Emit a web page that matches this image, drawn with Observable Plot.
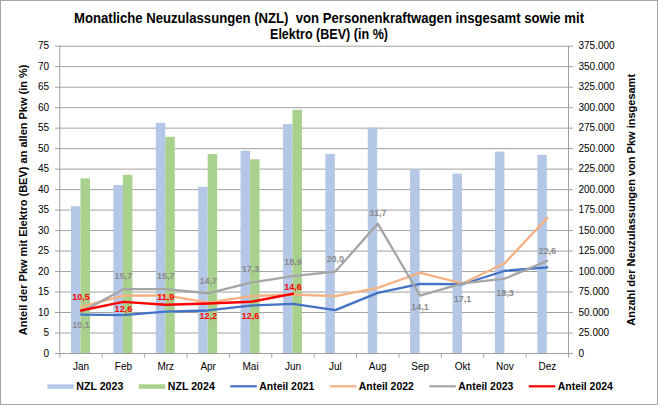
<!DOCTYPE html>
<html><head><meta charset="utf-8">
<script src="https://cdn.jsdelivr.net/npm/d3@7"></script>
<script src="https://cdn.jsdelivr.net/npm/@observablehq/plot@0.6"></script>
<style>
html,body{margin:0;padding:0;background:#fff;}
#wrap{position:relative;width:658px;height:405px;overflow:hidden;font-family:"Liberation Sans",Arial,sans-serif;background:#fff;}
#title{position:absolute;left:0;top:0;}
#chart{position:absolute;left:0;top:40px;}
#legend{position:absolute;left:0;top:380px;}
#border{position:absolute;left:0;top:0;width:658px;height:405px;box-sizing:border-box;border:1px solid #a6a6a6;pointer-events:none;}
</style></head><body>
<div id="wrap">
  <svg id="title" width="658" height="46"></svg>
  <div id="chart"></div>
  <svg id="legend" width="658" height="25"></svg>
  <div id="border"></div>
</div>
<script>
// ---- data ----
const months = ["Jan","Feb","Mrz","Apr","Mai","Jun","Jul","Aug","Sep","Okt","Nov","Dez"];
const nzl2023 = [179200, 205000, 281000, 202900, 246900, 279400, 243000, 274900, 223800, 218900, 245700, 241700];
const nzl2024 = [213100, 217400, 263800, 242700, 236400, 296800];
const anteil2021 = [9.5, 9.35, 10.2, 10.5, 11.7, 12.1, 10.6, 14.8, 17.0, 16.9, 20.2, 21.0];
const anteil2022 = [11.4, 14.1, 14.2, 12.4, 14.0, 14.4, 14.0, 16.0, 19.7, 17.1, 22.1, 33.1];
const anteil2023 = [10.1, 15.7, 15.7, 14.7, 17.3, 18.9, 20.0, 31.7, 14.1, 17.1, 18.3, 22.6];
const anteil2024 = [10.5, 12.6, 11.9, 12.2, 12.6, 14.6];
const leftTicks = [0, 5, 10, 15, 20, 25, 30, 35, 40, 45, 50, 55, 60, 65, 70, 75];
const rightTicks = [0, 25000, 50000, 75000, 100000, 125000, 150000, 175000, 200000, 225000, 250000, 275000, 300000, 325000, 350000, 375000];

const titleLines = ["Monatliche Neuzulassungen (NZL)  von Personenkraftwagen insgesamt sowie mit", "Elektro (BEV) (in %)"];
const leftTitle = "Anteil der Pkw mit Elektro (BEV) an allen Pkw (in %)";
const rightTitle = "Anzahl der Neuzulassungen von Pkw insgesamt";

// ---- helpers ----
const de = d3.formatLocale({decimal: ",", thousands: ".", grouping: [3], currency: ["", " €"]});
const fmtInt = de.format(",");
const fmt1 = de.format(".1f");
const SCALE = rightTicks[rightTicks.length - 1] / leftTicks[leftTicks.length - 1];

const C = {
  nzl23: "#b4c7e7", nzl24: "#a9d18e",
  a21: "#4472c4", a22: "#f4b183", a23: "#a5a5a5", a24: "#ff0000",
  grid: "#a0a0a0", grayLabel: "#8a8a8a"
};

const W = 658, H = 340, mL = 59.3, mR = 90, mT = 5.7, mB = 27;
const bw = (W - mL - mR) / months.length;
const barW = 9.5;

const rows = (arr) => arr.map((v, i) => ({month: months[i], v}));
const rows23 = rows(nzl2023).map(d => ({...d, y: d.v / SCALE}));
const rows24 = rows(nzl2024).map(d => ({...d, y: d.v / SCALE}));

const grayDy = {Jan: 13.4, Feb: -13, Mrz: -13.3, Apr: -12.3, Mai: -13.3, Jun: -14, Jul: -12.7, Aug: -11, Sep: 11.5, Okt: 15.5, Nov: 14.7, Dez: -9.7};
const redDy = {Jan: -13.3, Feb: 7, Mrz: -8, Apr: 12.8, Mai: 14.2, Jun: -7};

const chart = Plot.plot({
  width: W, height: H,
  marginLeft: mL, marginRight: mR, marginTop: mT, marginBottom: mB,
  x: {domain: months, padding: 0, round: false, axis: null, label: null},
  y: {domain: [0, 75], axis: null, label: null},
  style: {fontFamily: '"Liberation Sans", Arial, sans-serif', fontSize: "10px", color: "#000", background: "transparent", overflow: "visible"},
  marks: [
    Plot.ruleY(leftTicks, {stroke: C.grid, strokeWidth: 1}),
    Plot.barY(rows23, {x: "month", y: "y", fill: C.nzl23, insetLeft: bw / 2 - barW, insetRight: bw / 2}),
    Plot.barY(rows24, {x: "month", y: "y", fill: C.nzl24, insetLeft: bw / 2, insetRight: bw / 2 - barW}),
    Plot.ruleX([months[0]], {dx: -bw / 2, stroke: C.grid}),
    Plot.ruleX([months[months.length - 1]], {dx: bw / 2, stroke: C.grid}),
    Plot.ruleX(months, {y1: 0, y2: 0, insetBottom: -4.5, dx: -bw / 2, stroke: C.grid}),
    Plot.ruleX([months[months.length - 1]], {y1: 0, y2: 0, insetBottom: -4.5, dx: bw / 2, stroke: C.grid}),
    Plot.axisY({anchor: "left", ticks: leftTicks, tickSize: 4.3, tickPadding: 6.5, stroke: C.grid, fill: "#000", label: null}),
    Plot.axisY({anchor: "right", ticks: rightTicks.map(t => t / SCALE), tickFormat: d => fmtInt(Math.round(d * SCALE)), tickSize: 4, tickPadding: 6, stroke: C.grid, fill: "#000", label: null}),
    Plot.axisX({tickSize: 0, tickPadding: 9, fill: "#000", label: null}),
    Plot.lineY(rows(anteil2021), {x: "month", y: "v", stroke: C.a21, strokeWidth: 2.3}),
    Plot.lineY(rows(anteil2022), {x: "month", y: "v", stroke: C.a22, strokeWidth: 2.3}),
    Plot.lineY(rows(anteil2023), {x: "month", y: "v", stroke: C.a23, strokeWidth: 2.3}),
    Plot.lineY(rows(anteil2024), {x: "month", y: "v", stroke: C.a24, strokeWidth: 2.5}),
    ...rows(anteil2023).map(d => Plot.text([d], {x: "month", y: "v", text: r => fmt1(r.v), dy: grayDy[d.month], fill: C.grayLabel, fontWeight: "bold", fontSize: 9})),
    ...rows(anteil2024).map(d => Plot.text([d], {x: "month", y: "v", text: r => fmt1(r.v), dy: redDy[d.month], fill: C.a24, fontWeight: "bold", fontSize: 9})),
    Plot.text([leftTitle], {frameAnchor: "left", textAnchor: "middle", lineAnchor: "middle", text: d => d, rotate: -90, dx: -36, fontWeight: "bold", fontSize: 11, fill: "#000", ariaLabel: "ytitle-left"}),
    Plot.text([rightTitle], {frameAnchor: "right", textAnchor: "middle", lineAnchor: "middle", text: d => d, rotate: -90, dx: 63, fontWeight: "bold", fontSize: 11, fill: "#000", ariaLabel: "ytitle-right"})
  ]
});
document.getElementById("chart").appendChild(chart);
const setLen = (sel, len) => chart.querySelectorAll(sel).forEach(t => { t.setAttribute("textLength", len); t.setAttribute("lengthAdjust", "spacingAndGlyphs"); });
setLen('g[aria-label="ytitle-left"] text', 263);
setLen('g[aria-label="ytitle-right"] text', 248);

// ---- title ----
const tsvg = d3.select("#title");
const tLens = [510, 118], tBase = [23, 38.7];
titleLines.forEach((s, i) => {
  tsvg.append("text").attr("x", 329).attr("y", tBase[i]).attr("text-anchor", "middle")
    .attr("font-family", '"Liberation Sans", Arial, sans-serif').attr("font-size", 14).attr("font-weight", "bold")
    .style("white-space", "pre").attr("fill", "#000")
    .attr("textLength", tLens[i]).attr("lengthAdjust", "spacingAndGlyphs").text(s);
});

// ---- legend ----
const legendItems = [
  {name: "NZL 2023", type: "rect", color: C.nzl23, w: 47},
  {name: "NZL 2024", type: "rect", color: C.nzl24, w: 47},
  {name: "Anteil 2021", type: "line", color: C.a21, w: 55},
  {name: "Anteil 2022", type: "line", color: C.a22, w: 55},
  {name: "Anteil 2023", type: "line", color: C.a23, w: 55},
  {name: "Anteil 2024", type: "line", color: C.a24, w: 55}
];
const lsvg = d3.select("#legend");
let lx = 47.3;
const sw = 26.5;
legendItems.forEach(it => {
  if (it.type === "rect") {
    lsvg.append("rect").attr("x", lx).attr("y", 4.3).attr("width", sw).attr("height", 4.5).attr("fill", it.color);
  } else {
    lsvg.append("line").attr("x1", lx).attr("x2", lx + sw).attr("y1", 6.3).attr("y2", 6.3).attr("stroke", it.color).attr("stroke-width", 2.2);
  }
  lsvg.append("text").attr("x", lx + sw + 2.5).attr("y", 10.3)
    .attr("font-family", '"Liberation Sans", Arial, sans-serif').attr("font-size", 11).attr("font-weight", "bold").attr("fill", "#000")
    .attr("textLength", it.w).attr("lengthAdjust", "spacingAndGlyphs").text(it.name);
  lx += sw + 2.5 + it.w + 15.5;
});
</script>
</body></html>
